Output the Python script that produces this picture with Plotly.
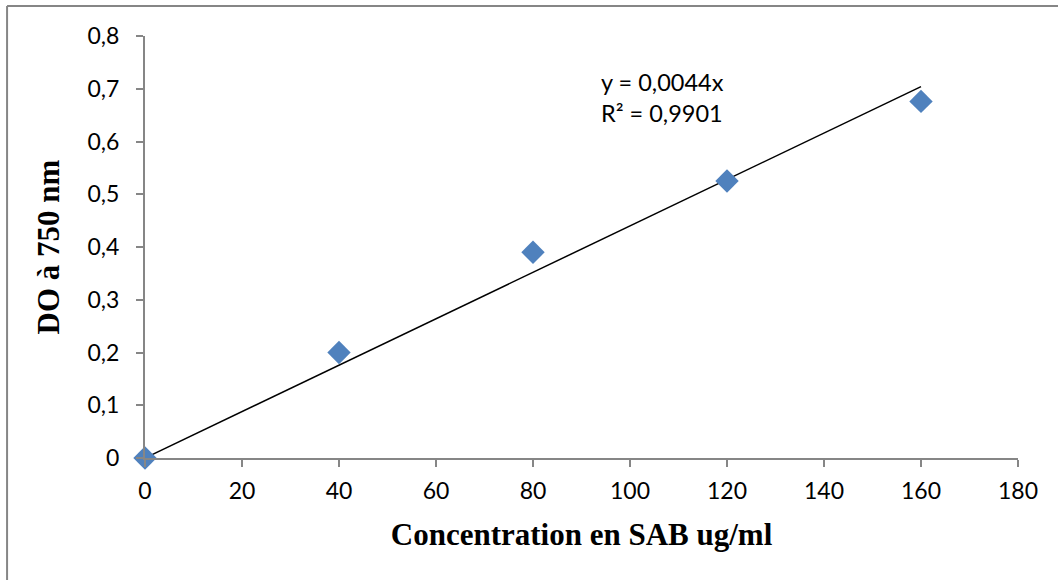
import plotly.graph_objects as go

conc = [0, 40, 80, 120, 160]
do_750 = [0.0, 0.20, 0.39, 0.525, 0.676]
slope = 0.0044
trend_x = [0, 160]
trend_y = [slope * v for v in trend_x]

x_ticks = [0, 20, 40, 60, 80, 100, 120, 140, 160, 180]
y_ticks = [0, 0.1, 0.2, 0.3, 0.4, 0.5, 0.6, 0.7, 0.8]
y_labels = ["0", "0,1", "0,2", "0,3", "0,4", "0,5", "0,6", "0,7", "0,8"]

fig = go.Figure()
fig.add_trace(go.Scatter(x=trend_x, y=trend_y, mode="lines",
                         line=dict(color="black", width=1.5), showlegend=False,
                         hoverinfo="skip"))
fig.add_trace(go.Scatter(x=conc, y=do_750, mode="markers",
                         marker=dict(symbol="diamond", size=18, color="#4F81BD",
                                     line=dict(width=0)),
                         showlegend=False, cliponaxis=False))

fig.add_annotation(x=93.6, y=0.683, xref="x", yref="y", xanchor="left", yanchor="middle",
                   text="y = 0,0044x<br>R² = 0,9901", showarrow=False, align="left",
                   font=dict(family="Lato, Open Sans, sans-serif", size=23.5, color="black"))

tickfont = dict(family="Lato, Open Sans, sans-serif", size=23, color="black")
titlefont = dict(family="Liberation Serif, Times New Roman, serif", size=31, color="black")

fig.update_xaxes(range=[0, 180], tickvals=x_ticks, ticktext=[str(v) for v in x_ticks],
                 showgrid=False, zeroline=False, showline=True, linecolor="#868686",
                 linewidth=2, ticks="outside", ticklen=7, tickwidth=2, tickcolor="#868686",
                 tickfont=tickfont, ticklabelstandoff=4,
                 title=dict(text="<b>Concentration en SAB ug/ml</b>", font=titlefont, standoff=21))
fig.update_yaxes(range=[0, 0.8], tickvals=y_ticks, ticktext=y_labels,
                 showgrid=False, zeroline=False, showline=True, linecolor="#868686",
                 linewidth=2, ticks="outside", ticklen=7, tickwidth=2, tickcolor="#868686",
                 tickfont=tickfont, ticklabelstandoff=12,
                 title=dict(text="<b>DO à 750 nm</b>", font=titlefont, standoff=19))

# outer chart border (extends past right/bottom edges as in the reference)
fig.add_shape(type="line", xref="paper", yref="paper", x0=-0.158, x1=1.2, y0=1.071, y1=1.071,
              line=dict(color="#868686", width=2))
fig.add_shape(type="line", xref="paper", yref="paper", x0=-0.158, x1=-0.158, y0=1.071, y1=-0.4,
              line=dict(color="#868686", width=2))

fig.update_layout(width=1058, height=580, margin=dict(l=145, r=40, t=36, b=122),
                  paper_bgcolor="white", plot_bgcolor="white")

fig.write_html("out.html")
